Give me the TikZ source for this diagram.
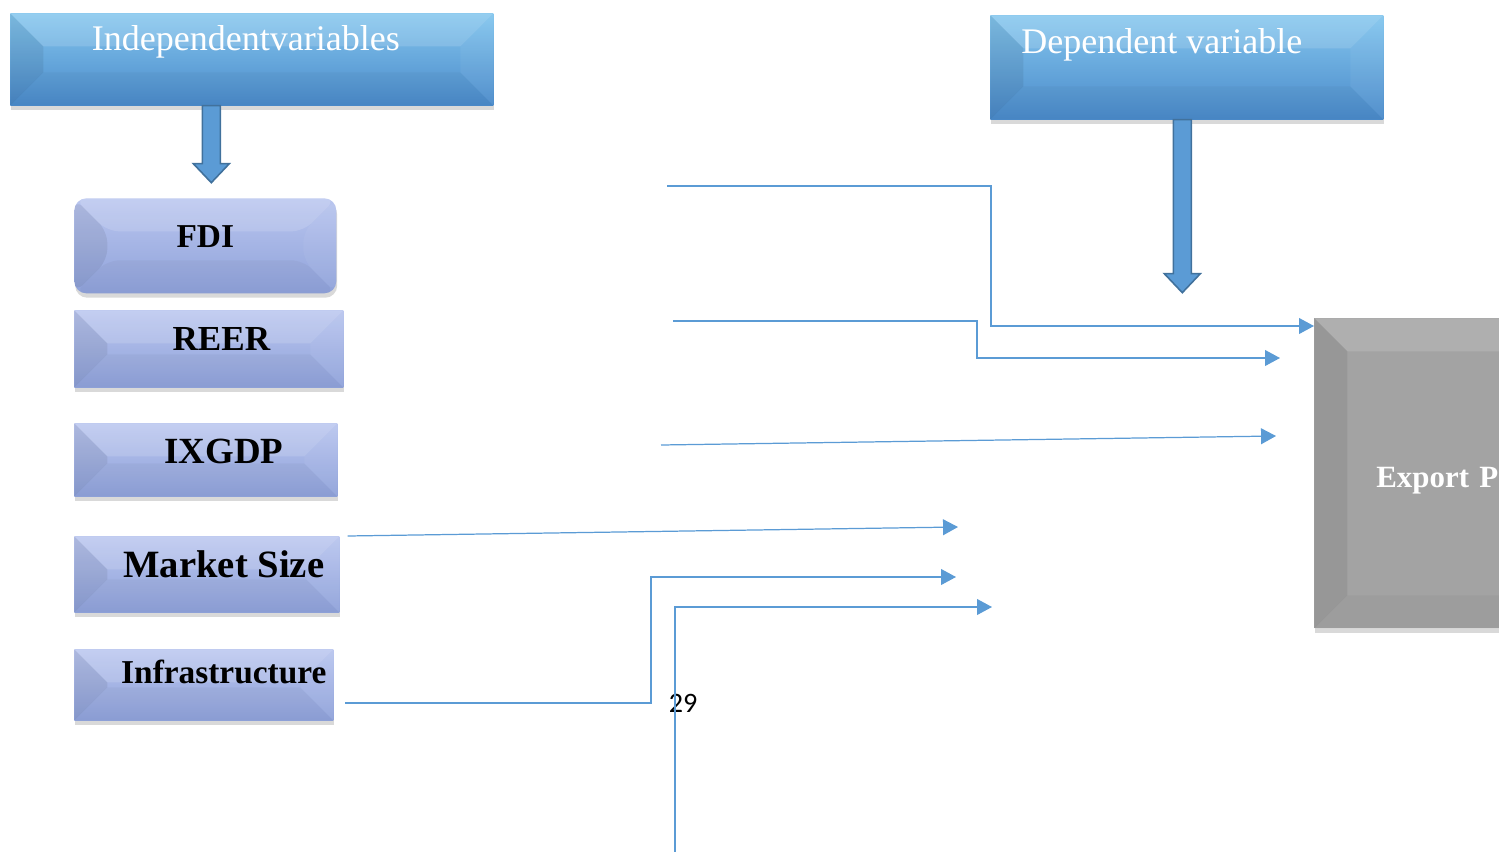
\documentclass[tikz,border=0pt]{standalone}
\usepackage{fontspec}
\setmainfont{Liberation Serif}
\newfontfamily\pagefont{Carlito}
\usetikzlibrary{arrows.meta, shadows}
\definecolor{hdrtop}{HTML}{84C6EE}
\definecolor{hdrmid}{HTML}{5D9DD7}
\definecolor{hdrbot}{HTML}{4A8ACA}
\definecolor{vartop}{HTML}{BAC6EF}
\definecolor{varbot}{HTML}{8FA2DA}
\definecolor{linkblue}{HTML}{5B9BD5}
\definecolor{arrowedge}{HTML}{41719C}
\definecolor{exportgray}{HTML}{A3A3A3}
\def\bevelw{0.66cm}

\begin{document}
\begin{tikzpicture}[
    x=0.02cm, y=-0.02cm, % one unit = one pixel of the layout
    bevel/.style={path picture={
        \coordinate (bnw) at (path picture bounding box.north west);
        \coordinate (bne) at (path picture bounding box.north east);
        \coordinate (bsw) at (path picture bounding box.south west);
        \coordinate (bse) at (path picture bounding box.south east);
        \fill[white, opacity=0.14] (bnw) -- (bne) -- ([xshift=-\bevelw, yshift=-\bevelw]bne) -- ([xshift=\bevelw, yshift=-\bevelw]bnw) -- cycle;
        \fill[black, opacity=0.07] (bnw) -- ([xshift=\bevelw, yshift=-\bevelw]bnw) -- ([xshift=\bevelw, yshift=\bevelw]bsw) -- (bsw) -- cycle;
        \fill[white, opacity=0.05] (bne) -- ([xshift=-\bevelw, yshift=-\bevelw]bne) -- ([xshift=-\bevelw, yshift=\bevelw]bse) -- (bse) -- cycle;
        \fill[black, opacity=0.03] (bsw) -- ([xshift=\bevelw, yshift=\bevelw]bsw) -- ([xshift=-\bevelw, yshift=\bevelw]bse) -- (bse) -- cycle;
    }},
    boxshadow/.style={drop shadow={shadow xshift=0.5pt, shadow yshift=-2.5pt, opacity=0.3}},
    hdr/.style={anchor=north west, inner sep=0pt, top color=hdrtop, middle color=hdrmid,
        bottom color=hdrbot, bevel, boxshadow, text=white, font=\fontsize{20.5}{24}\selectfont},
    var/.style={anchor=north west, inner sep=0pt, top color=vartop, bottom color=varbot,
        bevel, boxshadow, font=\bfseries\fontsize{20}{24}\selectfont},
    exportbox/.style={anchor=north west, inner ysep=0pt, fill=exportgray, bevel, boxshadow,
        text=white, font=\bfseries\fontsize{17.6}{21}\selectfont},
    link/.style={draw=linkblue, line width=0.7pt, -{Triangle[length=8.5pt, width=9pt]}},
    blockarrow/.style={fill=linkblue, draw=arrowedge, line width=0.9pt}
]

    % --- frame of the page ---
    \useasboundingbox (0,0) rectangle (1499,852);
    \clip (0,0) rectangle (1499,852);

    % --- macro for the thick down arrows under the headers ---
    % #1 = x offset from the anchor, #2 = anchor, #3 = shaft length
    \def\bigArrow#1#2#3{
        \draw[blockarrow] ([xshift={#1-0.18cm}]#2) -- ++(18,0) -- ++(0,#3) -- ++(9,0)
            -- ++(-18,19) -- ++(-18,-19) -- ++(9,0) -- cycle;
    }

    % Headers
    \node[hdr, minimum width=9.66cm, text height=0.74cm, text depth=1.10cm] (indep) at (10,13)
        {Independentvariables\hspace*{0.24cm}};
    \node[hdr, minimum width=7.86cm, text height=0.76cm, text depth=1.32cm] (dep) at (990,15)
        {Dependent variable\hspace*{1.0cm}};

    \bigArrow{-0.81cm}{indep.south}{58}
    \bigArrow{-0.09cm}{dep.south}{154}

    % Independent variables
    \node[var, rounded corners=0.24cm, minimum width=5.24cm, text height=0.98cm, text depth=0.92cm,
        font=\bfseries\fontsize{19}{22}\selectfont] (fdi) at (74,198) {FDI};
    \node[var, minimum width=5.38cm, text height=0.80cm, text depth=0.74cm] (reer) at (74,310)
        {\hspace*{0.5cm}REER};
    \node[var, minimum width=5.26cm, text height=0.80cm, text depth=0.66cm,
        font=\bfseries\fontsize{21}{24}\selectfont] (ixgdp) at (74,423) {\hspace*{0.72cm}IXGDP};
    \node[var, minimum width=5.30cm, text height=0.82cm, text depth=0.70cm,
        font=\bfseries\fontsize{22}{25}\selectfont] (market) at (74,536) {\hspace*{0.68cm}Market Size};
    \node[var, minimum width=5.18cm, text height=0.68cm, text depth=0.74cm,
        font=\bfseries\fontsize{19}{22}\selectfont] (infra) at (74,649) {\hspace*{0.8cm}Infrastructure};

    % Dependent variable
    \node[exportbox, text width=4cm, align=left, inner xsep=1.24cm, text height=3.38cm, text depth=2.82cm]
        (export) at (1314,318) {Export P};

    % Page number
    \node[font=\pagefont\fontsize{16}{19}\selectfont, inner sep=0pt] (pagenum) at (683,703) {29};

    % Connector ends
    \coordinate (in1) at (667,186);
    \coordinate (turn1) at (991,326);
    \coordinate (in2) at (673,321);
    \coordinate (turn2) at (977,358);
    \coordinate (out2) at (1280,358);
    \coordinate (in3) at (661,445);
    \coordinate (out3) at (1276,436);
    \coordinate (out4) at (958,527);
    \coordinate (in5) at (345,703);
    \coordinate (turn5) at (651,577);
    \coordinate (out5) at (956,577);
    \coordinate (in6) at (675,852);
    \coordinate (out6) at (992,607);

    % Connectors
    \draw[link] (in1) -| (turn1) -- (turn1 -| export.west);
    \draw[link] (in2) -| (turn2) -- (out2);
    \draw[link] (in3) -- (out3);
    \draw[link] ([xshift=0.16cm]market.north east) -- (out4);
    \draw[link] (in5) -| (turn5) -- (out5);
    \draw[link] (in6) |- (out6);

\end{tikzpicture}
\end{document}
